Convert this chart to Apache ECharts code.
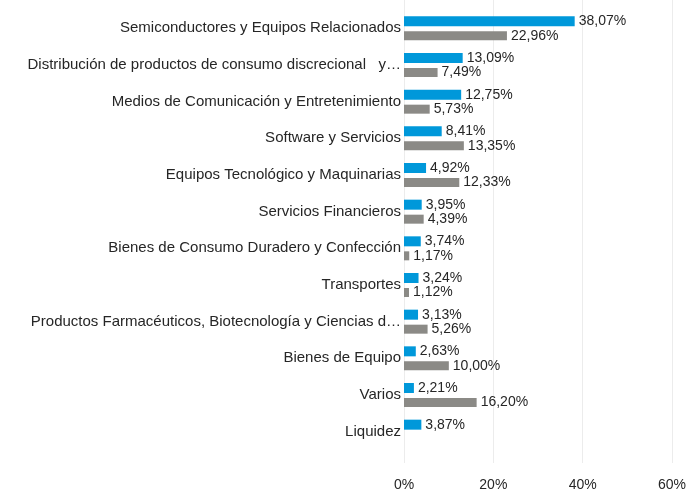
<!DOCTYPE html>
<html>
<head>
<meta charset="utf-8">
<script src="https://cdn.jsdelivr.net/npm/echarts@6/dist/echarts.min.js"></script>
<style>
  html, body { margin: 0; padding: 0; background: #fff; }
  #chart { width: 689px; height: 492px; }
</style>
</head>
<body>
<div id="chart"></div>
<script>
// categorías (de arriba a abajo)
const categories = [
  'Semiconductores y Equipos Relacionados',
  'Distribución de productos de consumo discrecional   y…',
  'Medios de Comunicación y Entretenimiento',
  'Software y Servicios',
  'Equipos Tecnológico y Maquinarias',
  'Servicios Financieros',
  'Bienes de Consumo Duradero y Confección',
  'Transportes',
  'Productos Farmacéuticos, Biotecnología y Ciencias d…',
  'Bienes de Equipo',
  'Varios',
  'Liquidez'
];
const fondo = [38.07, 13.09, 12.75, 8.41, 4.92, 3.95, 3.74, 3.24, 3.13, 2.63, 2.21, 3.87];
const indice = [22.96, 7.49, 5.73, 13.35, 12.33, 4.39, 1.17, 1.12, 5.26, 10.00, 16.20, null];
const xTicks = [0, 20, 40, 60];

const fmt = v => v.toFixed(2).replace('.', ',') + '%';
const font = 'Liberation Sans, Arial, sans-serif';

const chart = echarts.init(document.getElementById('chart'));

chart.setOption({
  animation: false,
  textStyle: { fontFamily: font },
  grid: [
    { left: 404, right: 16, top: 10, height: 440 },
    { left: 404, right: 16, top: 0, height: 467 }
  ],
  xAxis: [
    { gridIndex: 0, type: 'value', min: 0, max: 60, interval: 20,
      axisLabel: { show: false }, splitLine: { show: false },
      axisLine: { show: false }, axisTick: { show: false } },
    { gridIndex: 1, type: 'value', min: xTicks[0], max: xTicks[xTicks.length - 1], interval: 20,
      axisLine: { show: false }, axisTick: { show: false },
      splitLine: { show: true, lineStyle: { color: '#ececec', width: 1 } },
      axisLabel: { color: '#262626', fontSize: 14, margin: 15, formatter: v => v + '%' } }
  ],
  yAxis: [
    { gridIndex: 0, type: 'category', data: categories, inverse: true,
      axisLine: { show: false }, axisTick: { show: false },
      axisLabel: { color: '#262626', fontSize: 15, margin: 3 } },
    { gridIndex: 1, type: 'value', show: false }
  ],
  series: [
    {
      type: 'bar', xAxisIndex: 0, yAxisIndex: 0,
      data: fondo, barWidth: 10, barGap: '50%',
      itemStyle: { color: '#0098da' },
      label: { show: true, position: 'right', distance: 4, color: '#262626', fontSize: 14,
        formatter: p => fmt(p.value) }
    },
    {
      type: 'bar', xAxisIndex: 0, yAxisIndex: 0,
      data: indice, barWidth: 9,
      itemStyle: { color: '#8b8a86' },
      label: { show: true, position: 'right', distance: 4, color: '#262626', fontSize: 14,
        formatter: p => fmt(p.value) }
    }
  ]
});
</script>
</body>
</html>
